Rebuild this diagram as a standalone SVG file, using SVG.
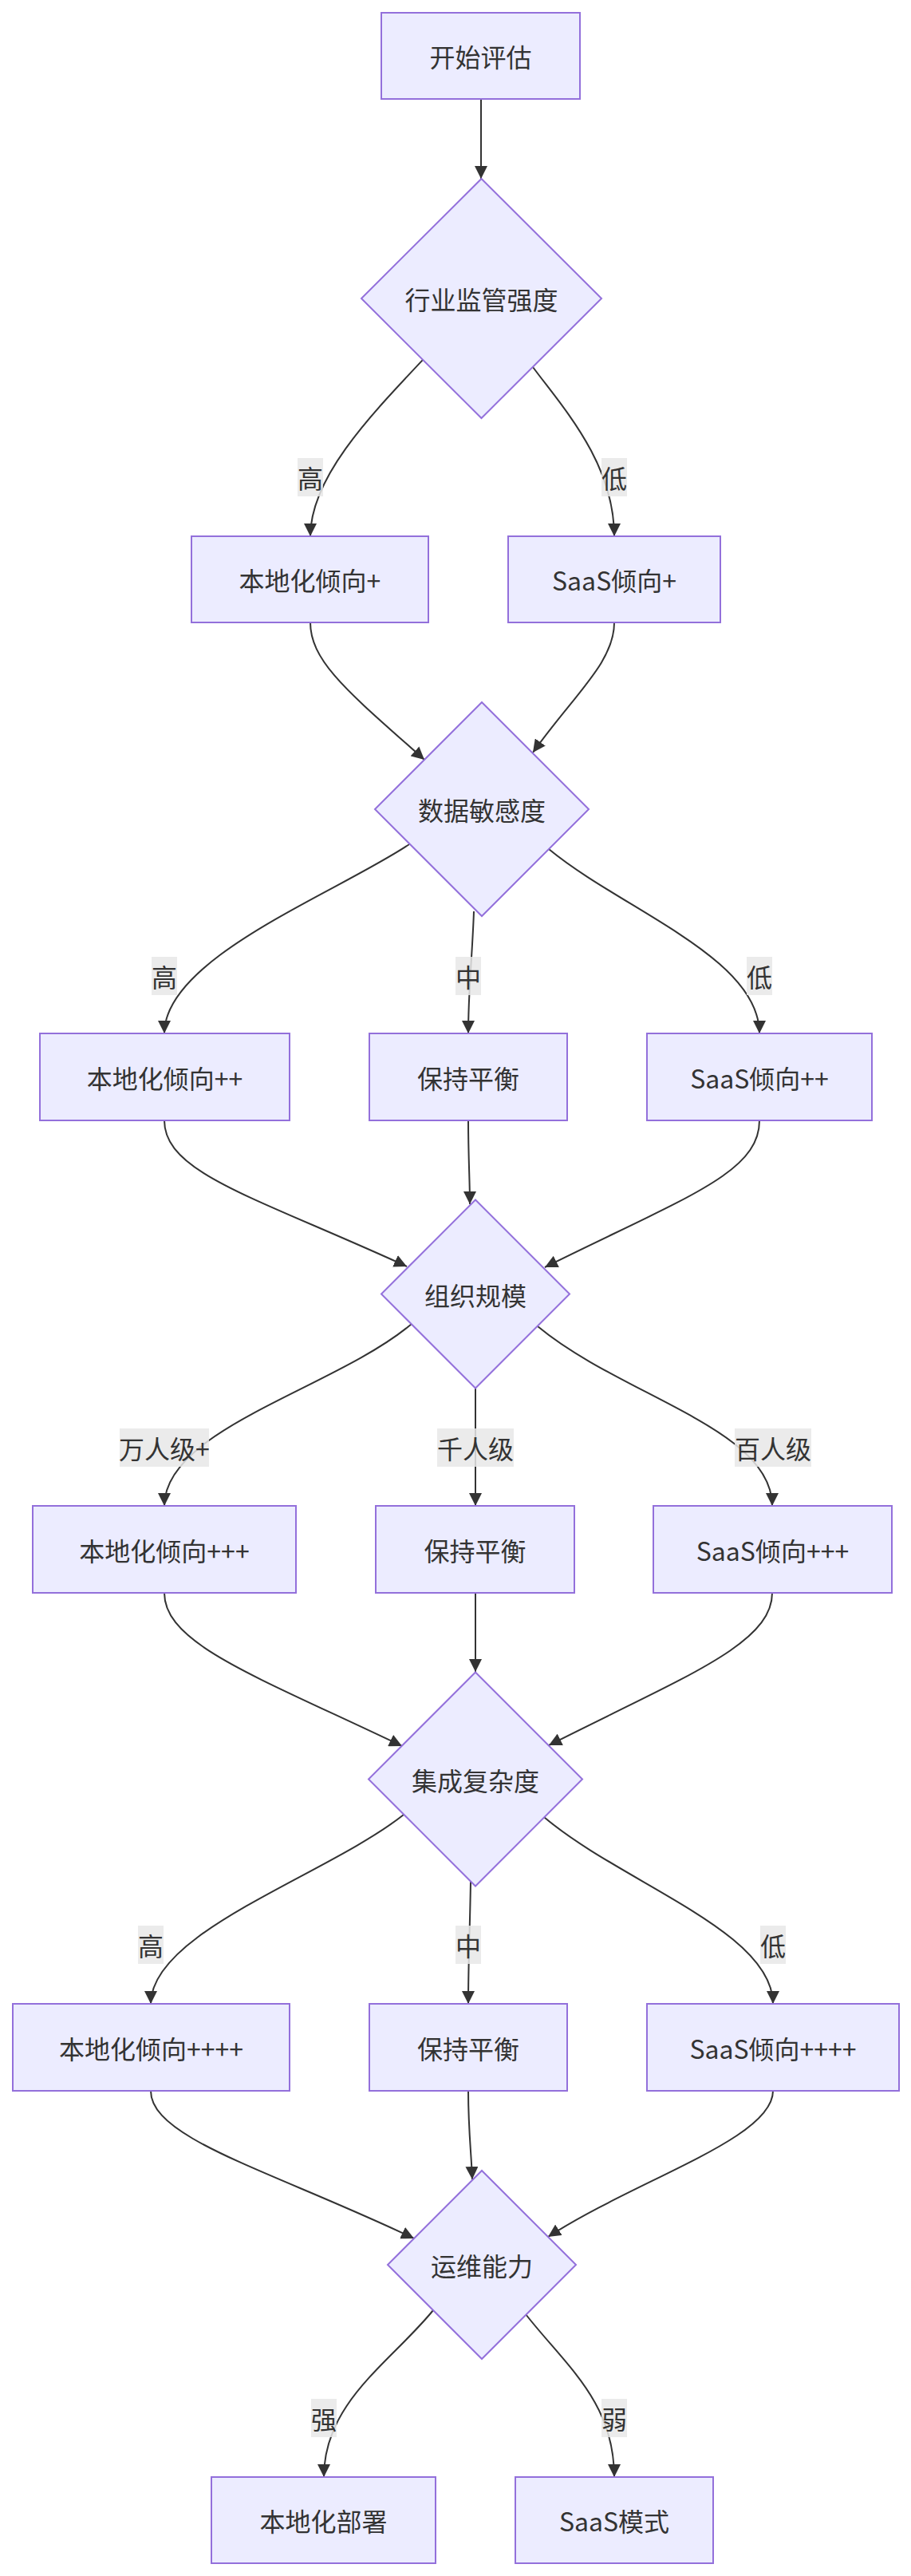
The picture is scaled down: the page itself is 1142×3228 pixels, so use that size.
<svg xmlns="http://www.w3.org/2000/svg" width="1142" height="3228" viewBox="0 0 1142 3228">
<style>
.node rect,.node polygon{fill:#ECECFF;stroke:#9370DB;stroke-width:2}
.node text{font-family:'Noto Sans CJK SC','Noto Sans',sans-serif;font-size:32px;fill:#333;text-anchor:middle;dominant-baseline:central}
.edges path{fill:none;stroke:#333;stroke-width:2;marker-end:url(#arrow)}
.label rect{fill:#e8e8e8;opacity:0.85}
.label text{font-family:'Noto Sans CJK SC','Noto Sans',sans-serif;font-size:32px;fill:#333;text-anchor:middle;dominant-baseline:central}
</style>
<defs>
<marker id="arrow" viewBox="0 0 10 10" refX="10" refY="5" markerUnits="userSpaceOnUse" markerWidth="16" markerHeight="16" orient="auto">
<path d="M0,0 L10,5 L0,10 z" fill="#333"/>
</marker>
</defs>
<rect width="1142" height="3228" fill="#fff"/>
<g class="edges">
<path d="M603,124 L603,224"/>
<path d="M530,451 C460,525 389,600 389,672"/>
<path d="M668,460 C705,510 770,580 770,672"/>
<path d="M389,780 C389,830 440,870 532,952"/>
<path d="M770,780 C770,830 720,870 668,943"/>
<path d="M513,1058 C420,1120 206,1200 206,1295"/>
<path d="M594,1142 C592,1200 587,1240 587,1295"/>
<path d="M688,1064 C780,1140 952,1200 952,1295"/>
<path d="M206,1404 C206,1470 320,1500 510,1587"/>
<path d="M587,1404 C587,1450 589,1480 589,1509"/>
<path d="M952,1404 C952,1470 860,1500 683,1588"/>
<path d="M516,1659 C420,1740 206,1790 206,1887"/>
<path d="M596,1740 L596,1887"/>
<path d="M674,1662 C780,1750 968,1790 968,1887"/>
<path d="M206,1996 C206,2060 320,2100 504,2188"/>
<path d="M596,1996 L596,2095"/>
<path d="M968,1996 C968,2060 860,2100 688,2187"/>
<path d="M506,2274 C410,2350 189,2420 189,2511"/>
<path d="M590,2358 C589,2420 587,2460 587,2511"/>
<path d="M682,2277 C780,2360 969,2420 969,2511"/>
<path d="M189,2620 C189,2680 340,2720 519,2805"/>
<path d="M587,2620 C587,2670 591,2700 592,2731"/>
<path d="M969,2620 C969,2680 800,2730 687,2803"/>
<path d="M543,2895 C490,2960 406,3010 406,3104"/>
<path d="M659,2900 C710,2965 770,3010 770,3104"/>
</g>
<g class="edgeLabels">
<g class="label"><rect x="373" y="574" width="32" height="48"/><text x="389" y="598">高</text></g>
<g class="label"><rect x="754" y="574" width="32" height="48"/><text x="770" y="598">低</text></g>
<g class="label"><rect x="190" y="1199" width="32" height="48"/><text x="206" y="1223">高</text></g>
<g class="label"><rect x="571" y="1199" width="32" height="48"/><text x="587" y="1223">中</text></g>
<g class="label"><rect x="936" y="1199" width="32" height="48"/><text x="952" y="1223">低</text></g>
<g class="label"><rect x="150" y="1790" width="112" height="48"/><text x="206" y="1814">万人级+</text></g>
<g class="label"><rect x="548" y="1790" width="96" height="48"/><text x="596" y="1814">千人级</text></g>
<g class="label"><rect x="921" y="1790" width="96" height="48"/><text x="969" y="1814">百人级</text></g>
<g class="label"><rect x="173" y="2413" width="32" height="48"/><text x="189" y="2437">高</text></g>
<g class="label"><rect x="571" y="2413" width="32" height="48"/><text x="587" y="2437">中</text></g>
<g class="label"><rect x="953" y="2413" width="32" height="48"/><text x="969" y="2437">低</text></g>
<g class="label"><rect x="390" y="3006" width="32" height="48"/><text x="406" y="3030">强</text></g>
<g class="label"><rect x="754" y="3006" width="32" height="48"/><text x="770" y="3030">弱</text></g>
</g>
<g id="start" class="node"><rect x="478" y="16" width="249" height="108"/><text x="602.5" y="70">开始评估</text></g>
<g id="d1" class="node"><polygon points="603.5,224 754,374 603.5,524 453,374"/><text x="603.5" y="374">行业监管强度</text></g>
<g id="n1a" class="node"><rect x="240" y="672" width="297" height="108"/><text x="388.5" y="726">本地化倾向+</text></g>
<g id="n1b" class="node"><rect x="637" y="672" width="266" height="108"/><text x="770" y="726">SaaS倾向+</text></g>
<g id="d2" class="node"><polygon points="604,880 738,1014 604,1148 470,1014"/><text x="604" y="1014">数据敏感度</text></g>
<g id="n2a" class="node"><rect x="50" y="1295" width="313" height="109"/><text x="206.5" y="1349.5">本地化倾向++</text></g>
<g id="n2b" class="node"><rect x="463" y="1295" width="248" height="109"/><text x="587" y="1349.5">保持平衡</text></g>
<g id="n2c" class="node"><rect x="811" y="1295" width="282" height="109"/><text x="952" y="1349.5">SaaS倾向++</text></g>
<g id="d3" class="node"><polygon points="596,1503.5 714,1621.5 596,1739.5 478,1621.5"/><text x="596" y="1621.5">组织规模</text></g>
<g id="n3a" class="node"><rect x="41" y="1887" width="330" height="109"/><text x="206" y="1941.5">本地化倾向+++</text></g>
<g id="n3b" class="node"><rect x="471" y="1887" width="249" height="109"/><text x="595.5" y="1941.5">保持平衡</text></g>
<g id="n3c" class="node"><rect x="819" y="1887" width="299" height="109"/><text x="968.5" y="1941.5">SaaS倾向+++</text></g>
<g id="d4" class="node"><polygon points="596,2095.5 730,2229.5 596,2363.5 462,2229.5"/><text x="596" y="2229.5">集成复杂度</text></g>
<g id="n4a" class="node"><rect x="16" y="2511" width="347" height="109"/><text x="189.5" y="2565.5">本地化倾向++++</text></g>
<g id="n4b" class="node"><rect x="463" y="2511" width="248" height="109"/><text x="587" y="2565.5">保持平衡</text></g>
<g id="n4c" class="node"><rect x="811" y="2511" width="316" height="109"/><text x="969" y="2565.5">SaaS倾向++++</text></g>
<g id="d5" class="node"><polygon points="604,2720 722,2838 604,2956 486,2838"/><text x="604" y="2838">运维能力</text></g>
<g id="n5a" class="node"><rect x="265" y="3104" width="281" height="108"/><text x="405.5" y="3158">本地化部署</text></g>
<g id="n5b" class="node"><rect x="646" y="3104" width="248" height="108"/><text x="770" y="3158">SaaS模式</text></g>
</svg>
